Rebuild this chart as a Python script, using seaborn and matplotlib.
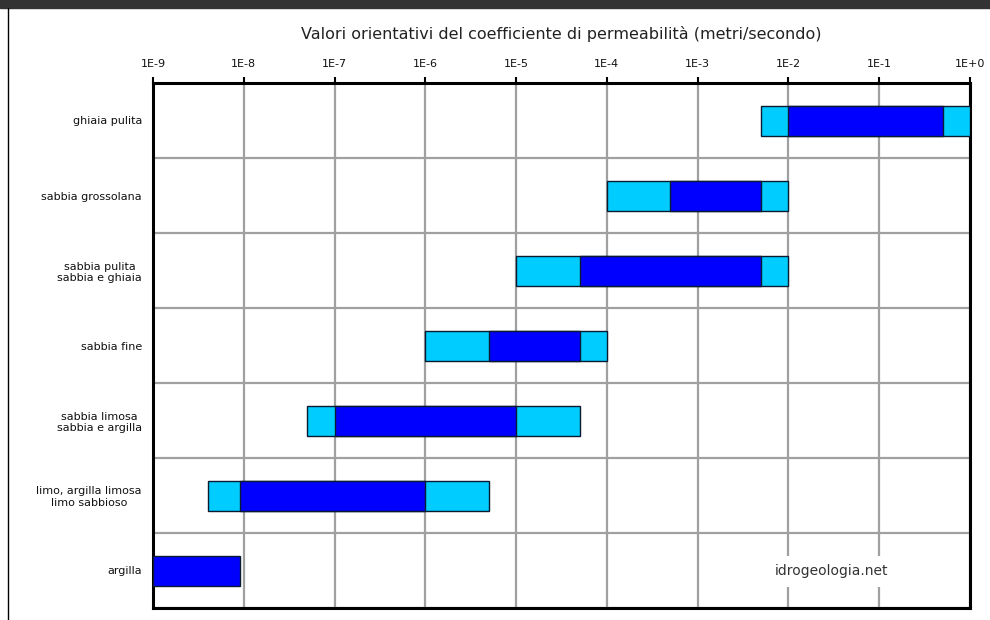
import numpy as np
import matplotlib.pyplot as plt
import seaborn as sns
from matplotlib.patches import Rectangle
from matplotlib.lines import Line2D

# permeability ranges (m/s)
categories = [
    "ghiaia pulita",
    "sabbia grossolana",
    "sabbia pulita\nsabbia e ghiaia",
    "sabbia fine",
    "sabbia limosa\nsabbia e argilla",
    "limo, argilla limosa\nlimo sabbioso",
    "argilla",
]
range_low = [5e-3, 1e-4, 1e-5, 1e-6, 5e-8, 4e-9, np.nan]
range_high = [1e0, 1e-2, 1e-2, 1e-4, 5e-5, 5e-6, np.nan]
typical_low = [1e-2, 5e-4, 5e-5, 5e-6, 1e-7, 9e-9, 1e-9]
typical_high = [5e-1, 5e-3, 5e-3, 5e-5, 1e-5, 1e-6, 9e-9]
decade_ticks = [1e-9, 1e-8, 1e-7, 1e-6, 1e-5, 1e-4, 1e-3, 1e-2, 1e-1, 1e0]
decade_labels = ["1E-9", "1E-8", "1E-7", "1E-6", "1E-5", "1E-4", "1E-3", "1E-2", "1E-1", "1E+0"]

sns.set_style("white")
plt.rcParams["font.family"] = ["DejaVu Sans"]

fig = plt.figure(figsize=(9.9, 6.2), dpi=100)
ax = fig.add_axes([153 / 990, 1 - 608 / 620, 817 / 990, 525 / 620])

ypos = np.arange(len(categories))
lo = np.array(range_low)
hi = np.array(range_high)
ok = ~np.isnan(lo)

# light bars = full range, dark bars = most common range
ax.barh(ypos[ok], hi[ok] - lo[ok], left=lo[ok], height=0.4,
        color="#00CCFF", edgecolor="#0a1a30", linewidth=1, zorder=3)
ax.barh(ypos, np.array(typical_high) - np.array(typical_low), left=typical_low, height=0.4,
        color="#0000FF", edgecolor="#0a1a30", linewidth=1, zorder=4)

ax.set_xscale("log")
ax.set_xlim(1e-9, 1e0)
ax.set_ylim(len(categories) - 0.5, -0.5)

# x axis on top
ax.xaxis.tick_top()
ax.set_xticks(decade_ticks)
ax.set_xticklabels(decade_labels, fontsize=8, color="#111111")
ax.xaxis.set_minor_locator(plt.NullLocator())
ax.tick_params(axis="x", which="major", direction="out", length=4, width=1.5, pad=6, color="black")

# rows: boundaries as ticks, labels at centres
ax.set_yticks(np.arange(len(categories) + 1) - 0.5)
ax.set_yticklabels([])
ax.set_yticks(ypos, minor=True)
ax.set_yticklabels(categories, minor=True, fontsize=8, multialignment="center", color="#111111")
ax.tick_params(axis="y", which="major", direction="out", length=5, width=1.5, color="black")
ax.tick_params(axis="y", which="minor", length=0, pad=8)

ax.grid(True, which="major", color="#a0a0a0", linewidth=1.6, zorder=0)
ax.set_axisbelow(True)

for side in ["top", "bottom", "left", "right"]:
    ax.spines[side].set_visible(True)
    ax.spines[side].set_color("black")
    ax.spines[side].set_linewidth(2.2)

ax.set_title("Valori orientativi del coefficiente di permeabilità (metri/secondo)",
             fontsize=11.5, color="#222222", pad=32)

ax.text(0.83, 0.07, "idrogeologia.net", transform=ax.transAxes, ha="center", va="center",
        fontsize=10, color="#333333", zorder=5,
        bbox=dict(facecolor="white", edgecolor="none", pad=6))

# page frame
fig.patches.append(Rectangle((0, 1 - 8 / 620), 1, 8 / 620, transform=fig.transFigure,
                             color="#333333", zorder=0))
fig.add_artist(Line2D([8 / 990, 8 / 990], [0, 1 - 8 / 620], transform=fig.transFigure,
                      color="black", linewidth=1))

fig.savefig("out.png", dpi=100)
